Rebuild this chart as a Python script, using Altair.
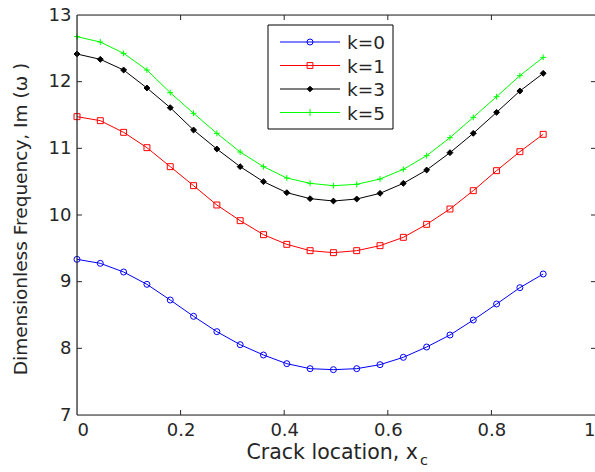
import altair as alt
import pandas as pd

# Crack positions along the beam (dimensionless)
x_c = [0.0, 0.045, 0.09, 0.135, 0.18, 0.225, 0.27, 0.315, 0.36, 0.405, 0.45,
       0.495, 0.54, 0.585, 0.63, 0.675, 0.72, 0.765, 0.81, 0.855, 0.9]

# Imaginary part of the dimensionless frequency for each k
freq_k0 = [9.335, 9.275, 9.145, 8.96, 8.725, 8.48, 8.25, 8.055, 7.9, 7.77, 7.695,
           7.68, 7.695, 7.755, 7.865, 8.02, 8.2, 8.425, 8.665, 8.91, 9.115]
freq_k1 = [11.475, 11.415, 11.24, 11.01, 10.725, 10.44, 10.15, 9.915, 9.705, 9.56, 9.465,
           9.435, 9.465, 9.54, 9.665, 9.86, 10.09, 10.365, 10.665, 10.95, 11.21]
freq_k3 = [12.415, 12.335, 12.175, 11.905, 11.61, 11.275, 10.99, 10.725, 10.5, 10.335, 10.245,
           10.21, 10.24, 10.325, 10.475, 10.675, 10.935, 11.225, 11.54, 11.86, 12.125]
freq_k5 = [12.675, 12.595, 12.425, 12.175, 11.835, 11.525, 11.225, 10.945, 10.725, 10.555, 10.475,
           10.44, 10.46, 10.54, 10.685, 10.89, 11.16, 11.465, 11.775, 12.09, 12.365]

labels = ["k=0", "k=1", "k=3", "k=5"]
series = [freq_k0, freq_k1, freq_k3, freq_k5]

x_ticks = [0, 0.2, 0.4, 0.6, 0.8, 1]
y_ticks = [7, 8, 9, 10, 11, 12, 13]
x_inner_ticks = [0.2, 0.4, 0.6, 0.8]
y_inner_ticks = [8, 9, 10, 11, 12]

# Styling
colors = ["#0000ff", "#ff0000", "#000000", "#00ff00"]
plus_path = "M-1,0H1M0,-1V1"
shapes = ["circle", "square", "diamond", plus_path]
fills = ["transparent", "transparent", "#000000", "transparent"]
sizes = [36, 34, 30, 49]
FONT = "DejaVu Sans"
INK = "#262626"
W, H = 518, 400

rows = []
for lab, vals in zip(labels, series):
    for xv, yv in zip(x_c, vals):
        rows.append({"x": xv, "y": yv, "k": lab})
df = pd.DataFrame(rows)

axis_style = dict(title=None, grid=False, domain=False, ticks=False, tickSize=0,
                  labelFont=FONT, labelFontSize=18, labelColor=INK)
x_enc = alt.X("x:Q", scale=alt.Scale(domain=[0, 1], nice=False, zero=False),
              axis=alt.Axis(values=x_ticks, format="~g", labelPadding=6, **axis_style))
y_enc = alt.Y("y:Q", scale=alt.Scale(domain=[7, 13], nice=False, zero=False),
              axis=alt.Axis(values=y_ticks, format="d", labelPadding=6, **axis_style))

lines = alt.Chart(df).mark_line(strokeWidth=1).encode(
    x=x_enc, y=y_enc,
    color=alt.Color("k:N", scale=alt.Scale(domain=labels, range=colors), legend=None),
)

points = alt.Chart(df).mark_point(opacity=1, strokeWidth=1).encode(
    x="x:Q", y="y:Q",
    shape=alt.Shape("k:N", scale=alt.Scale(domain=labels, range=shapes), legend=None),
    stroke=alt.Stroke("k:N", scale=alt.Scale(domain=labels, range=colors), legend=None),
    fill=alt.Fill("k:N", scale=alt.Scale(domain=labels, range=fills), legend=None),
    size=alt.Size("k:N", scale=alt.Scale(domain=labels, range=sizes), legend=None),
)

one = pd.DataFrame({"t": [""]})

# Axes box (left, top, bottom edges; the right edge lies just past the canvas)
frame_style = dict(color=INK, strokeWidth=1.2)
frame = [
    alt.Chart(one).mark_rule(**frame_style).encode(x=alt.value(0), y=alt.value(0), y2=alt.value(H)),
    alt.Chart(one).mark_rule(**frame_style).encode(x=alt.value(0), x2=alt.value(W + 2), y=alt.value(0)),
    alt.Chart(one).mark_rule(**frame_style).encode(x=alt.value(0), x2=alt.value(W + 2), y=alt.value(H)),
]

# Inward-pointing tick marks on all four sides of the box
xt = pd.DataFrame({"v": x_inner_ticks})
yt = pd.DataFrame({"v": y_inner_ticks})
tick_style = dict(color=INK, strokeWidth=1)
ticks = [
    alt.Chart(xt).mark_rule(**tick_style).encode(x="v:Q", y=alt.value(H), y2=alt.value(H - 5)),
    alt.Chart(xt).mark_rule(**tick_style).encode(x="v:Q", y=alt.value(0), y2=alt.value(5)),
    alt.Chart(yt).mark_rule(**tick_style).encode(y="v:Q", x=alt.value(0), x2=alt.value(5)),
    alt.Chart(yt).mark_rule(**tick_style).encode(y="v:Q", x=alt.value(W - 4), x2=alt.value(W + 2)),
]

# Axis titles
x_title = alt.Chart(one).mark_text(
    text="Crack location, x", font=FONT, fontSize=20.5, color=INK,
    align="right", baseline="alphabetic",
).encode(x=alt.value(341), y=alt.value(444))
x_title_sub = alt.Chart(one).mark_text(
    text="c", font=FONT, fontSize=14.5, color=INK, align="left", baseline="alphabetic",
).encode(x=alt.value(343), y=alt.value(450))
y_title = alt.Chart(one).mark_text(
    text="Dimensionless Frequency, Im (\u03c9 )", font=FONT, fontSize=18.5, color=INK,
    align="center", baseline="alphabetic", angle=270,
).encode(x=alt.value(-50), y=alt.value(204))

# Legend box with line + marker samples
legend_layers = [
    alt.Chart(one).mark_rect(fill="white", stroke="#000000", strokeWidth=1).encode(
        x=alt.value(191), x2=alt.value(316), y=alt.value(10), y2=alt.value(114))
]
row_y = [27, 50.5, 74, 97.5]
for lab, col, shp, fil, sz, ry in zip(labels, colors, shapes, fills, sizes, row_y):
    ld = pd.DataFrame({"k": [lab]})
    legend_layers.append(
        alt.Chart(ld).mark_rule(color=col, strokeWidth=1).encode(
            x=alt.value(203), x2=alt.value(263), y=alt.value(ry)))
    legend_layers.append(
        alt.Chart(ld).mark_point(shape=shp, size=sz, stroke=col, fill=fil, opacity=1,
                                 strokeWidth=1).encode(x=alt.value(233), y=alt.value(ry)))
    legend_layers.append(
        alt.Chart(ld).mark_text(font=FONT, fontSize=18.5, color=INK, align="left",
                                baseline="middle").encode(
            x=alt.value(270), y=alt.value(ry + 1), text="k:N"))

chart = alt.layer(lines, points, *frame, *ticks, x_title, x_title_sub, y_title,
                  *legend_layers).properties(
    width=W, height=H,
    autosize=alt.AutoSizeParams(type="none"),
    padding={"left": 77, "top": 15, "right": 0, "bottom": 57},
).configure_view(
    strokeWidth=0,
).configure(background="white")

chart.save("out.html", embed_options={"renderer": "svg", "actions": False})
